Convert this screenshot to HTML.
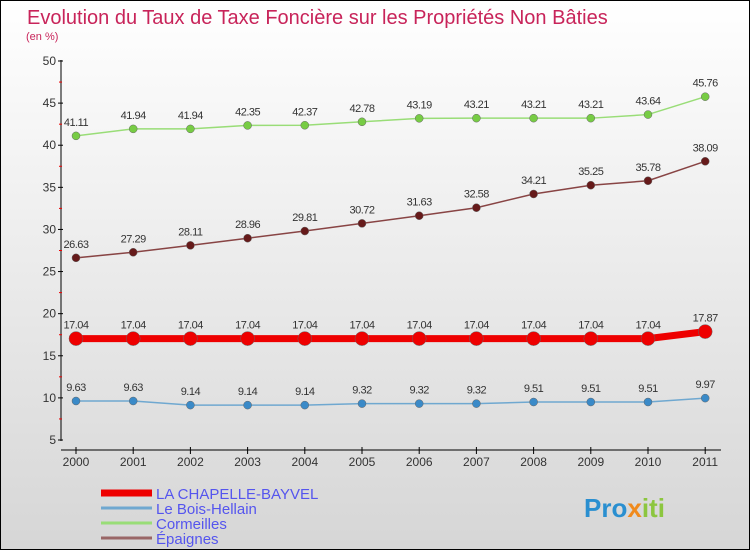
<!DOCTYPE html>
<html><head><meta charset="utf-8"><style>
body{margin:0}
#c{width:750px;height:550px;position:relative;box-sizing:border-box;border:1px solid #000;background:linear-gradient(#ffffff,#d6d6d6);font-family:"Liberation Sans",sans-serif;overflow:hidden}
</style></head><body>
<div id="c">
<svg width="748" height="548" id="s" style="position:absolute;left:0;top:0">
<text x="26" y="23" font-size="20" fill="#c8245a">Evolution du Taux de Taxe Foncière sur les Propriétés Non Bâties</text>
<text x="25" y="39" font-size="11" fill="#c8245a">(en %)</text>
<g id="axes"></g><g id="series"></g><g id="legend"></g>
<text x="583" y="516" font-size="26" font-weight="bold" fill="#2a8fd0">Pro<tspan fill="#f08a1c">x</tspan><tspan fill="#8cc63f">iti</tspan></text>
</svg>
</div>
<script>
const years=["2000","2001","2002","2003","2004","2005","2006","2007","2008","2009","2010","2011"];
const yTicks=[5,10,15,20,25,30,35,40,45,50];
const chapelle=[17.04,17.04,17.04,17.04,17.04,17.04,17.04,17.04,17.04,17.04,17.04,17.87];
const boisHellain=[9.63,9.63,9.14,9.14,9.14,9.32,9.32,9.32,9.51,9.51,9.51,9.97];
const cormeilles=[41.11,41.94,41.94,42.35,42.37,42.78,43.19,43.21,43.21,43.21,43.64,45.76];
const epaignes=[26.63,27.29,28.11,28.96,29.81,30.72,31.63,32.58,34.21,35.25,35.78,38.09];
const NS="http://www.w3.org/2000/svg";
const xS=i=>75+i*57.2;
const yS=v=>439-(v-5)*(379/45);
function mk(p,t,a){const e=document.createElementNS(NS,t);for(const k in a)e.setAttribute(k,a[k]);p.appendChild(e);return e;}
const ax=document.getElementById('axes');
let l=mk(ax,'line',{x1:60,y1:59,x2:60,y2:440,stroke:'#000'});


l=mk(ax,'line',{x1:60,y1:449,x2:720,y2:449,stroke:'#000'});


yTicks.forEach((t,i)=>{const y=yS(t);
 mk(ax,'line',{x1:57,y1:y,x2:62,y2:y,stroke:'#000'});
 if(i<yTicks.length-1){mk(ax,'line',{x1:58,y1:yS(t+2.5),x2:61,y2:yS(t+2.5),stroke:'#e00'});}
 const tx=mk(ax,'text',{x:55,y:y+4,'font-size':12,'text-anchor':'end',fill:'#333'});tx.textContent=t;
 
 
});
years.forEach((yr,i)=>{const x=xS(i);
 mk(ax,'line',{x1:x,y1:446,x2:x,y2:453,stroke:'#000'});
 const tx=mk(ax,'text',{x:x,y:465,'font-size':12,'text-anchor':'middle',fill:'#333'});tx.textContent=yr;
 
 
});
const se=document.getElementById('series');
function draw(name,vals,color,w,r,dot){
 const g=mk(se,'g',{});
 
 
 mk(g,'polyline',{points:vals.map((v,i)=>xS(i)+','+yS(v)).join(' '),fill:'none',stroke:color,'stroke-width':w});
 vals.forEach((v,i)=>{
  const c=mk(g,'circle',{cx:xS(i),cy:yS(v),r:r,fill:dot,stroke:'#666','stroke-width':0.5});
  
  
  const t=mk(g,'text',{x:xS(i),y:yS(v)-10,'font-size':11,'text-anchor':'middle',fill:'#333','letter-spacing':'-0.5'});
  t.textContent=v.toFixed(2);
  
  
 });
}
draw('cormeilles',cormeilles,'#99dd77',1.5,4,'#77cc44');
draw('epaignes',epaignes,'#884444',1.5,4,'#661a1a');
draw('bois-hellain',boisHellain,'#6fa8d0',1.5,4,'#3a8ac8');
draw('la-chapelle-bayvel',chapelle,'#ee0000',7,7,'#ee0000');
const lg=document.getElementById('legend');
const items=[["LA CHAPELLE-BAYVEL","#ee0000",7],["Le Bois-Hellain","#6fa8d0",3],["Cormeilles","#99dd77",3],["Épaignes","#996666",3]];
items.forEach((it,i)=>{const y=492+i*15;
 const g=mk(lg,'g',{});
 
 
 mk(g,'line',{x1:100,y1:y,x2:151,y2:y,stroke:it[1],'stroke-width':it[2]});
 const t=mk(g,'text',{x:155,y:y+6,'font-size':15,fill:'#5555ee'});t.textContent=it[0];
});
</script>
</body></html>
